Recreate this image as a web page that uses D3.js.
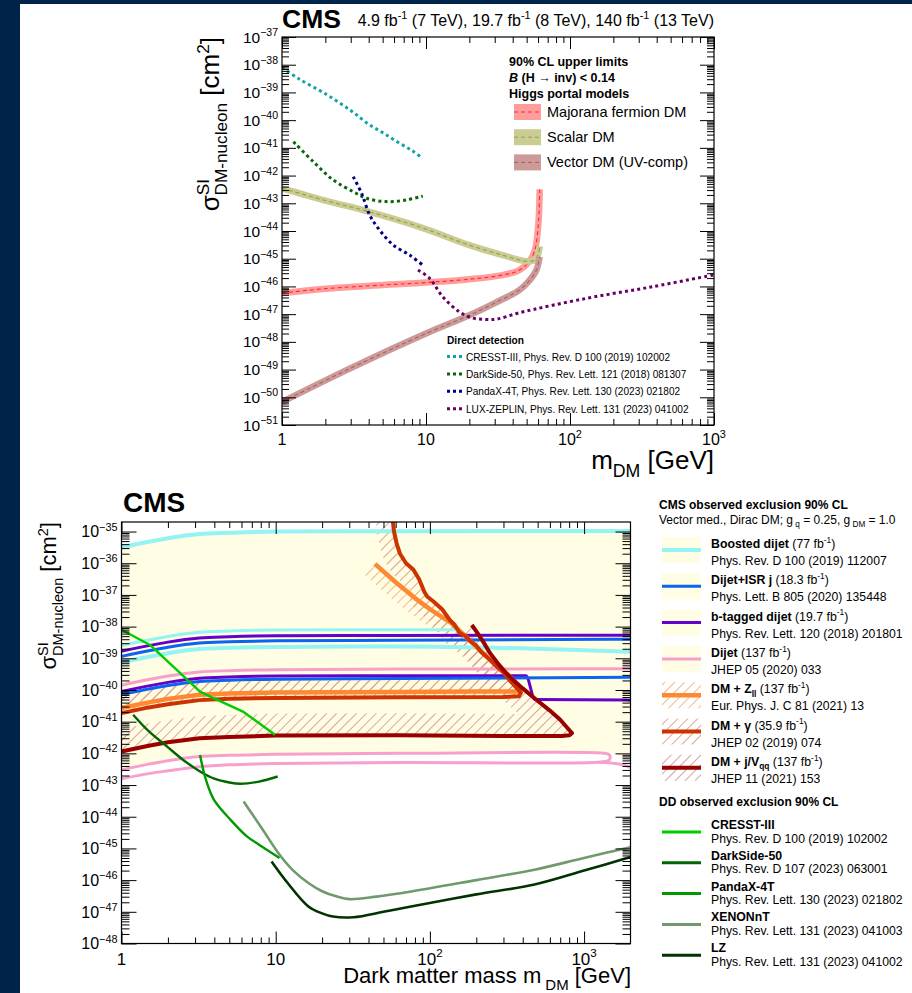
<!DOCTYPE html>
<html>
<head>
<meta charset="utf-8">
<script src="https://cdn.jsdelivr.net/npm/d3@7"></script>
<style>
  body { margin: 0; background: #002349; }
  svg { display: block; font-family: "Liberation Sans", Arial, Helvetica, sans-serif; }
  text { white-space: pre; }
</style>
</head>
<body>
<div id="chart"></div>
<script>
// ---------- upper panel: [m_DM in GeV, log10(sigma / cm^2)] ----------
const majoranaBand = [[1,-46.24],[2,-46.08],[5,-45.95],[10,-45.86],[20,-45.74],[34,-45.59],[44.5,-45.41],[52,-45.11],[57,-44.69],[59.8,-43.97],[61,-43.3],[61.6,-42.5]];
const scalarBand = [[1,-42.46],[2,-42.9],[4,-43.3],[9,-43.85],[20,-44.51],[34,-44.87],[49.6,-45.09],[56.9,-45.05],[60,-44.85],[61.6,-44.55]];
const vectorBand = [[1,-50.17],[3,-48.95],[10,-47.7],[20,-47.04],[30,-46.6],[44.5,-46.13],[52,-45.8],[58.4,-45.41],[61.6,-44.93]];
const cresstDots = [[1,-38.1],[1.3,-38.5],[2,-39.05],[3,-39.65],[4,-40.15],[5,-40.45],[6.3,-40.78],[8,-41.1],[9.5,-41.38]];
const darksideDots = [[1.2,-40.78],[1.65,-41.5],[2.27,-42.16],[3.12,-42.58],[3.86,-42.82],[5.3,-42.94],[7.3,-42.88],[9.5,-42.74]];
const pandaxDots = [[3.12,-42.04],[3.57,-42.64],[4.07,-43.43],[4.77,-43.97],[5.9,-44.5],[7.7,-44.87],[9.5,-45.23]];
const lzDots = [[8.8,-45.41],[10.6,-45.71],[13.1,-46.38],[17.1,-46.92],[21,-47.14],[26,-47.19],[31,-47.18],[44.5,-46.95],[130,-46.43],[375,-46.01],[1000,-45.58]];

const higgsLabels = ["Majorana fermion DM", "Scalar DM", "Vector DM (UV-comp)"];
const ddTopLabels = ["CRESST-III, Phys. Rev. D 100 (2019) 102002", "DarkSide-50, Phys. Rev. Lett. 121 (2018) 081307",
  "PandaX-4T, Phys. Rev. Lett. 130 (2023) 021802", "LUX-ZEPLIN, Phys. Rev. Lett. 131 (2023) 041002"];
const topXTicks = [1, 10, 100, 1000];
const topYExp = [-51,-50,-49,-48,-47,-46,-45,-44,-43,-42,-41,-40,-39,-38,-37];

// ---------- lower panel ----------
const boostedTop = [[1,-35.5],[1.5,-35.32],[2,-35.21],[3.2,-35.08],[5,-35.04],[10,-35.0],[63,-34.99],[2000,-34.98]];
const boostedMid = [[1,-38.6],[1.5,-38.42],[2,-38.31],[3.2,-38.18],[5,-38.14],[10,-38.11],[63,-38.1],[150,-38.1]];
const boostedLow = [[1,-39.13],[1.5,-38.95],[2,-38.84],[3.2,-38.71],[5,-38.67],[10,-38.64],[63,-38.63],[500,-38.7],[2000,-38.79]];
const isrHigh = [[1,-38.94],[1.5,-38.76],[2,-38.65],[3.2,-38.52],[5,-38.48],[10,-38.45],[63,-38.43],[2000,-38.4]];
const isrLow = [[1,-40.15],[1.5,-39.97],[2,-39.86],[3.2,-39.73],[5,-39.69],[10,-39.66],[63,-39.64],[2000,-39.6]];
const btagHigh = [[1,-38.78],[1.5,-38.6],[2,-38.49],[3.2,-38.36],[5,-38.32],[10,-38.29],[63,-38.28],[2000,-38.27]];
const btagLow = [[1,-40.05],[1.5,-39.87],[2,-39.76],[3.2,-39.63],[5,-39.59],[10,-39.56],[63,-39.55],[420,-39.55],[480,-40.3],[2000,-40.32]];
const dijetHigh = [[1,-39.85],[1.5,-39.67],[2,-39.56],[3.2,-39.43],[5,-39.39],[10,-39.36],[63,-39.34],[2000,-39.33]];
const dijetLoop = [[1,-42.52],[1.5,-42.34],[2,-42.23],[3.2,-42.1],[5,-42.06],[10,-42.03],[63,-42.0],[1300,-41.99],[1440,-42.03],[1480,-42.12],
  [1440,-42.22],[1300,-42.27],[63,-42.29],[10,-42.32],[5,-42.36],[3.2,-42.42],[2,-42.55],[1.5,-42.64],[1,-42.8]];
const dijetTail = [[1250,-42.28],[1600,-42.32],[1850,-42.38],[2000,-42.45]];
const zllContour = [[44,-36.02],[60,-36.6],[80,-37.1],[100,-37.45],[137,-37.88],[170,-38.3],[210,-38.74],[250,-39.05],[300,-39.37],[340,-39.65],
  [365,-39.88],[382,-40.0],[372,-40.05],[200,-40.05],[63,-40.06],[10,-40.08],[5,-40.11],[3.2,-40.15],[2,-40.28],[1.5,-40.39],[1,-40.57]];
const gammaContour = [[57,-34.5],[58.5,-35.0],[61,-35.4],[64,-35.7],[70,-36.0],[78,-36.2],[85,-36.5],[92,-36.9],[96,-37.05],[105,-37.2],
  [120,-37.45],[135,-37.8],[145,-37.95],[156,-38.2],[170,-38.3],[182,-38.45],[200,-38.6],[215,-38.8],[245,-39.05],[270,-39.25],[300,-39.45],
  [330,-39.7],[360,-39.9],[390,-40.08],[378,-40.2],[300,-40.22],[63,-40.23],[10,-40.25],[5,-40.28],[3.2,-40.32],[2,-40.45],[1.5,-40.55],[1,-40.73]];
const jvContour = [[187,-37.95],[200,-38.15],[220,-38.45],[245,-38.83],[280,-39.2],[310,-39.45],[346,-39.68],[400,-39.95],[490,-40.31],
  [600,-40.65],[700,-40.94],[780,-41.2],[835,-41.36],[800,-41.43],[720,-41.45],[300,-41.45],[63,-41.43],[10,-41.44],[5,-41.48],[3.2,-41.52],
  [2,-41.65],[1.5,-41.76],[1,-41.94]];
const cresstLine = [[1,-38.1],[1.53,-38.58],[3.23,-40.05],[3.74,-40.2],[6.13,-40.68],[9.9,-41.41]];
const darksideLine = [[1.19,-40.78],[1.5,-41.3],[1.97,-41.78],[2.5,-42.2],[3.23,-42.57],[4,-42.8],[5,-42.92],[5.9,-42.96],[7.8,-42.89],[10.3,-42.73]];
const pandaxLine = [[3.23,-42.05],[3.53,-42.84],[3.98,-43.47],[5.1,-44.1],[6.5,-44.62],[7.8,-44.88],[10.6,-45.3]];
const xenonLine = [[6.2,-43.52],[7,-43.9],[8.25,-44.41],[10.6,-45.2],[13,-45.7],[16.3,-46.09],[20,-46.35],[25,-46.52],[30,-46.6],[45,-46.52],
  [75.6,-46.36],[200,-46.0],[477,-45.67],[1000,-45.3],[2000,-44.96]];
const lzLine = [[9.4,-45.41],[12,-46.1],[16.3,-46.83],[20,-47.05],[23.5,-47.15],[32,-47.17],[50,-47.0],[75.6,-46.83],[200,-46.45],[477,-46.14],
  [1000,-45.7],[2000,-45.27]];

const cmsNames = ["Boosted dijet", "Dijet+ISR j", "b-tagged dijet", "Dijet", "DM + Z_{ll}", "DM + γ", "DM + j/V_{qq}"];
const cmsLumi = ["77", "18.3", "19.7", "137", "137", "35.9", "137"];
const cmsRefs = ["Phys. Rev. D 100 (2019) 112007", "Phys. Lett. B 805 (2020) 135448", "Phys. Rev. Lett. 120 (2018) 201801",
  "JHEP 05 (2020) 033", "Eur. Phys. J. C 81 (2021) 13", "JHEP 02 (2019) 074", "JHEP 11 (2021) 153"];
const ddNames = ["CRESST-III", "DarkSide-50", "PandaX-4T", "XENONnT", "LZ"];
const ddRefs = ["Phys. Rev. D 100 (2019) 102002", "Phys. Rev. D 107 (2023) 063001", "Phys. Rev. Lett. 130 (2023) 021802",
  "Phys. Rev. Lett. 131 (2023) 041003", "Phys. Rev. Lett. 131 (2023) 041002"];
const botXTicks = [1, 10, 100, 1000];
const botYExp = [-48,-47,-46,-45,-44,-43,-42,-41,-40,-39,-38,-37,-36,-35];

let width = 912;
let height = 993;

var svg = d3.select("#chart").append("svg").attr("width", width).attr("height", height);
svg.append("rect").attr("width", width).attr("height", height).attr("fill", "#002349");
svg.append("rect").attr("x", 20).attr("y", 4).attr("width", width - 20).attr("height", height - 4).attr("fill", "#fff");
var defs = svg.append("defs");

// text with ^{..} and _{..}
function rich(sel, str, size, weight, state) {
  state = state || { shift: 0 };
  str.split(/(\^\{[^}]*\}|_\{[^}]*\})/).filter((s) => s).forEach((p) => {
    let fs = size, t = p, target = 0;
    if (p.startsWith("^{")) { fs = size * 0.68; t = p.slice(2, -1); target = -size * 0.42; }
    else if (p.startsWith("_{")) { fs = size * 0.68; t = p.slice(2, -1); target = size * 0.3; }
    sel.append("tspan").attr("font-size", fs).attr("font-weight", weight || null).attr("dy", target - state.shift).text(t);
    state.shift = target;
  });
  return state;
}

function minorTicks(lo, hi) {
  let out = [];
  for (let k = Math.floor(Math.log10(lo)); k <= Math.ceil(Math.log10(hi)); k++)
    for (let j = 2; j <= 9; j++) {
      let v = j * Math.pow(10, k);
      if (v > lo * 1.0001 && v < hi * 0.9999) out.push(v);
    }
  return out;
}

function frame(g, x, y, o) {
  let [xl, xr] = x.range(), [yb, yt] = y.range();
  let xMin = minorTicks(...x.domain()), yMin = minorTicks(...y.domain());
  let yMaj = o.yExp.map((e) => Math.pow(10, e));
  let add = (axis, tr) => g.append("g").attr("transform", tr).call(axis)
    .call((s) => { s.select(".domain").remove(); s.selectAll("text").remove(); s.selectAll("line").attr("stroke", "#000"); });
  add(d3.axisBottom(x).tickValues(o.xTicks).tickSize(-o.xMaj), `translate(0,${yb})`);
  add(d3.axisBottom(x).tickValues(xMin).tickSize(-o.xMin), `translate(0,${yb})`);
  add(d3.axisTop(x).tickValues(o.xTicks).tickSize(-o.xMaj), `translate(0,${yt})`);
  add(d3.axisTop(x).tickValues(xMin).tickSize(-o.xMin), `translate(0,${yt})`);
  add(d3.axisLeft(y).tickValues(yMaj).tickSize(-o.yMaj), `translate(${xl},0)`);
  add(d3.axisLeft(y).tickValues(yMin).tickSize(-o.yMin), `translate(${xl},0)`);
  add(d3.axisRight(y).tickValues(yMaj).tickSize(-o.yMaj), `translate(${xr},0)`);
  add(d3.axisRight(y).tickValues(yMin).tickSize(-o.yMin), `translate(${xr},0)`);
  g.append("rect").attr("x", xl).attr("y", yt).attr("width", xr - xl).attr("height", yb - yt)
    .attr("fill", "none").attr("stroke", "#000").attr("stroke-width", 1.2);

  // y labels 10^{-n}
  o.yExp.forEach((e) => {
    let t = g.append("text").attr("x", xl - 4).attr("y", y(Math.pow(10, e)) + o.ySize * 0.36).attr("text-anchor", "end");
    rich(t, "10^{−" + Math.abs(e) + "}", o.ySize);
  });
  o.xTicks.forEach((v) => {
    let e = Math.round(Math.log10(v));
    let s = e === 0 ? "1" : e === 1 ? "10" : "10^{" + e + "}";
    let t = g.append("text").attr("x", x(v)).attr("y", yb + o.xLabY).attr("text-anchor", "middle");
    rich(t, s, o.xSize);
  });
}

function yTitle(x0, y0, size) {
  let s = size * 0.66;
  let t = svg.append("text").attr("transform", `translate(${x0},${y0}) rotate(-90)`).attr("text-anchor", "end");
  t.append("tspan").attr("font-size", size).text("σ");
  t.append("tspan").attr("font-size", s).attr("dy", -size * 0.38).text("SI");
  t.append("tspan").attr("font-size", s).attr("dx", -s * 0.95).attr("dy", size * 0.7).text("DM-nucleon");
  t.append("tspan").attr("font-size", size).attr("dy", -size * 0.32).text(" [cm");
  t.append("tspan").attr("font-size", s).attr("dy", -size * 0.38).text("2");
  t.append("tspan").attr("font-size", size).attr("dy", size * 0.38).text("]");
}

let lineFor = (x, y, curve) => d3.line().x((d) => x(d[0])).y((d) => y(Math.pow(10, d[1]))).curve(curve || d3.curveLinear);

// ================= upper panel =================
let xA = d3.scaleLog().domain([1, 1000]).range([282, 714]);
let yA = d3.scaleLog().domain([1e-51, 1e-37]).range([425, 37]);
defs.append("clipPath").attr("id", "clipA").append("rect").attr("x", 282).attr("y", 37).attr("width", 432).attr("height", 388);

let gA = svg.append("g").attr("clip-path", "url(#clipA)");
let smoothA = lineFor(xA, yA, d3.curveCatmullRom.alpha(0.5));

let bands = [
  { data: majoranaBand, fill: "#ff9c9c", dash: "#ff2a2a" },
  { data: scalarBand, fill: "#cbcb94", dash: "#9a9a4a" },
  { data: vectorBand, fill: "#cd9a9a", dash: "#a06464" },
];
bands.forEach((b) => {
  gA.append("path").attr("d", smoothA(b.data)).attr("fill", "none").attr("stroke", b.fill).attr("stroke-width", 6.5);
  gA.append("path").attr("d", smoothA(b.data)).attr("fill", "none").attr("stroke", b.dash).attr("stroke-width", 1.1).attr("stroke-dasharray", "4 3");
});

let dotted = [
  { data: cresstDots, color: "#14a3a3" },
  { data: darksideDots, color: "#0a640a" },
  { data: pandaxDots, color: "#000080" },
  { data: lzDots, color: "#660066" },
];
dotted.forEach((d) => {
  gA.append("path").attr("d", smoothA(d.data)).attr("fill", "none").attr("stroke", d.color).attr("stroke-width", 3).attr("stroke-dasharray", "3 3.2");
});

frame(svg.append("g"), xA, yA, { xTicks: topXTicks, yExp: topYExp, xMaj: 12, xMin: 6, yMaj: 14, yMin: 7, ySize: 15.5, xSize: 16, xLabY: 20 });

svg.append("text").attr("x", 282).attr("y", 28).attr("font-size", 26.5).attr("font-weight", "bold").text("CMS");
rich(svg.append("text").attr("x", 714).attr("y", 26).attr("text-anchor", "end"),
  "4.9 fb^{-1} (7 TeV), 19.7 fb^{-1} (8 TeV), 140 fb^{-1} (13 TeV)", 16);
rich(svg.append("text").attr("x", 714).attr("y", 469).attr("text-anchor", "end"), "m_{DM} [GeV]", 26);
yTitle(219, 37, 26);

// upper legend
let lt = svg.append("g").attr("font-size", 12.5).attr("font-weight", "bold");
lt.append("text").attr("x", 509).attr("y", 66).text("90% CL upper limits");
let bt = lt.append("text").attr("x", 509).attr("y", 82);
bt.append("tspan").attr("font-style", "italic").text("B");
bt.append("tspan").text(" (H → inv) < 0.14");
lt.append("text").attr("x", 509).attr("y", 98).text("Higgs portal models");
higgsLabels.forEach((lab, i) => {
  let cy = 112 + i * 25.2;
  svg.append("rect").attr("x", 514).attr("y", cy - 8).attr("width", 27).attr("height", 16).attr("fill", bands[i].fill);
  svg.append("line").attr("x1", 514).attr("x2", 541).attr("y1", cy).attr("y2", cy).attr("stroke", bands[i].dash).attr("stroke-width", 1).attr("stroke-dasharray", "4 3");
  svg.append("text").attr("x", 547).attr("y", cy + 5).attr("font-size", 14.5).text(lab);
});
svg.append("text").attr("x", 447).attr("y", 344).attr("font-size", 10.2).attr("font-weight", "bold").text("Direct detection");
ddTopLabels.forEach((lab, i) => {
  let cy = 356.5 + i * 17.4;
  svg.append("line").attr("x1", 447).attr("x2", 464).attr("y1", cy).attr("y2", cy).attr("stroke", dotted[i].color).attr("stroke-width", 3).attr("stroke-dasharray", "3 3");
  svg.append("text").attr("x", 466).attr("y", cy + 4).attr("font-size", 10.1).text(lab);
});

// ================= lower panel =================
let xB = d3.scaleLog().domain([1, 2000]).range([121.5, 630.5]);
let yB = d3.scaleLog().domain([1e-48, 2e-35]).range([943.5, 522]);
defs.append("clipPath").attr("id", "clipB").append("rect").attr("x", 121.5).attr("y", 522).attr("width", 509).attr("height", 421.5);

// "////" hatching: vertical lines in a tile rotated by 45 degrees
function hatch(id, color) {
  let p = defs.append("pattern").attr("id", id).attr("patternUnits", "userSpaceOnUse")
    .attr("width", 7).attr("height", 7).attr("patternTransform", "rotate(45)");
  p.append("rect").attr("x", 0).attr("y", 0).attr("width", 0.9).attr("height", 7).attr("fill", color);
}
hatch("hZll", "#f4b07c");
hatch("hGam", "#dc9a80");
hatch("hJv", "#d89a9a");

let gB = svg.append("g").attr("clip-path", "url(#clipB)");
let monoB = lineFor(xB, yB, d3.curveMonotoneX);
let smoothB = lineFor(xB, yB, d3.curveCatmullRom.alpha(0.5));
let linB = lineFor(xB, yB);

// pale fill of the dijet-type exclusions
gB.append("path").attr("d", smoothB(boostedTop.concat([[2200, -34.98], [2200, -41.99]], dijetLoop.slice(0, 8).reverse())) + "Z")
  .attr("fill", "#fffde3");

function hatchStrip(pts, extra, pat, w, id) {
  defs.append("clipPath").attr("id", id).append("path").attr("d", linB(pts.concat(extra)) + "Z");
  gB.append("path").attr("d", linB(pts)).attr("fill", "none").attr("stroke", `url(#${pat})`)
    .attr("stroke-width", 2 * w).attr("clip-path", `url(#${id})`);
}
hatchStrip(zllContour, [[0.5, -40.57], [0.5, -33], [44, -33]], "hZll", 15, "cZll");
hatchStrip(gammaContour, [[0.5, -40.73], [0.5, -33], [57, -33]], "hGam", 17, "cGam");
hatchStrip(jvContour, [[0.5, -41.94], [0.5, -33], [187, -33]], "hJv", 22, "cJv");

let cmsStyle = [
  { color: "#94f3f3", w: 4 },
  { color: "#0a64f0", w: 3 },
  { color: "#6600cc", w: 3 },
  { color: "#f7a0cc", w: 3 },
  { color: "#ff8833", w: 4.5 },
  { color: "#cc3300", w: 4 },
  { color: "#990000", w: 4 },
];
let drawB = (gen, data, st) => gB.append("path").attr("d", gen(data)).attr("fill", "none")
  .attr("stroke", st.color).attr("stroke-width", st.w).attr("stroke-linejoin", "round");

drawB(monoB, boostedTop, cmsStyle[0]);
drawB(monoB, boostedMid, { color: cmsStyle[0].color, w: 3 });
drawB(monoB, boostedLow, cmsStyle[0]);
drawB(smoothB, dijetLoop, cmsStyle[3]);
drawB(monoB, dijetTail, cmsStyle[3]);
drawB(monoB, dijetHigh, cmsStyle[3]);
drawB(monoB, btagHigh, cmsStyle[2]);
drawB(monoB, isrHigh, cmsStyle[1]);
drawB(monoB, btagLow, cmsStyle[2]);
drawB(monoB, isrLow, cmsStyle[1]);
drawB(linB, zllContour, cmsStyle[4]);
drawB(linB, gammaContour, cmsStyle[5]);
drawB(linB, jvContour, cmsStyle[6]);

let ddStyle = [
  { color: "#00cc00", w: 2.4 },
  { color: "#006600", w: 2.4 },
  { color: "#009900", w: 2.4 },
  { color: "#6e9a6e", w: 2.6 },
  { color: "#003300", w: 2.6 },
];
drawB(linB, cresstLine, ddStyle[0]);
drawB(smoothB, darksideLine, ddStyle[1]);
drawB(smoothB, pandaxLine, ddStyle[2]);
drawB(smoothB, xenonLine, ddStyle[3]);
drawB(smoothB, lzLine, ddStyle[4]);

frame(svg.append("g"), xB, yB, { xTicks: botXTicks, yExp: botYExp, xMaj: 12, xMin: 6, yMaj: 15, yMin: 8, ySize: 16, xSize: 17, xLabY: 21 });

svg.append("text").attr("x", 123).attr("y", 512).attr("font-size", 28).attr("font-weight", "bold").text("CMS");
rich(svg.append("text").attr("x", 631).attr("y", 983).attr("text-anchor", "end"), "Dark matter mass m_{ DM} [GeV]", 22);
yTitle(56, 522, 22);

// lower legend
let lg = svg.append("g");
lg.append("text").attr("x", 659).attr("y", 509).attr("font-size", 12).attr("font-weight", "bold").text("CMS observed exclusion 90% CL");
rich(lg.append("text").attr("x", 659).attr("y", 523.5), "Vector med., Dirac DM; g_{ q} = 0.25, g_{ DM} = 1.0", 12);
let hatchIds = [null, null, null, null, "hZll", "hGam", "hJv"];
cmsNames.forEach((name, i) => {
  let cy = 550 + i * 36.3;
  lg.append("rect").attr("x", 662).attr("y", cy - 13).attr("width", 39).attr("height", 26)
    .attr("fill", hatchIds[i] ? `url(#${hatchIds[i]})` : "#fffde3");
  lg.append("line").attr("x1", 662).attr("x2", 701).attr("y1", cy).attr("y2", cy)
    .attr("stroke", cmsStyle[i].color).attr("stroke-width", cmsStyle[i].w);
  let t = lg.append("text").attr("x", 711).attr("y", cy - 2);
  let st = rich(t, name, 12.3, "bold");
  rich(t, " (" + cmsLumi[i] + " fb^{-1})", 12.3, null, st);
  lg.append("text").attr("x", 711).attr("y", cy + 15).attr("font-size", 12.2).text(cmsRefs[i]);
});
lg.append("text").attr("x", 659).attr("y", 806).attr("font-size", 12).attr("font-weight", "bold").text("DD observed exclusion 90% CL");
ddNames.forEach((name, i) => {
  let cy = 832 + i * 30.8;
  lg.append("line").attr("x1", 662).attr("x2", 701).attr("y1", cy).attr("y2", cy)
    .attr("stroke", ddStyle[i].color).attr("stroke-width", 3);
  lg.append("text").attr("x", 711).attr("y", cy - 3).attr("font-size", 12.3).attr("font-weight", "bold").text(name);
  lg.append("text").attr("x", 711).attr("y", cy + 10.5).attr("font-size", 12.2).text(ddRefs[i]);
});
</script>
</body>
</html>
